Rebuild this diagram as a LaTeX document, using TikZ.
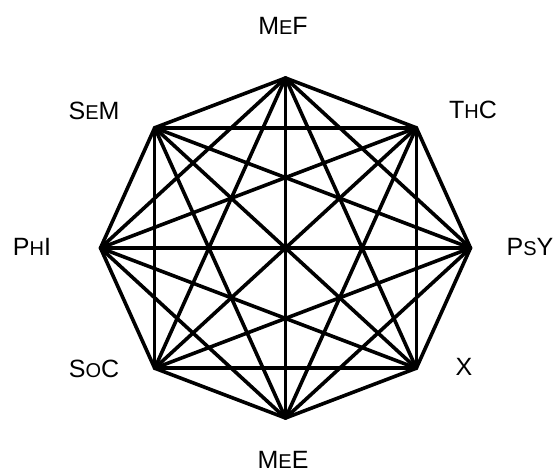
\documentclass[tikz,border=0pt]{standalone}
\usepackage{fontspec}
\setmainfont{Liberation Sans}
\usetikzlibrary{calc}
\newcommand{\smc}[3]{#1{\fontsize{10}{12}\selectfont #2}#3}

\begin{document}
\begin{tikzpicture}[x=0.5pt, y=0.5pt]
    \tikzstyle{vertex} = [coordinate]
    \tikzstyle{edge}   = [line width=1.8pt, line cap=round, line join=round]
    \tikzstyle{lbl}    = [font=\fontsize{12.5}{15}\selectfont, inner sep=0pt]

    \useasboundingbox (0,0) rectangle (556,472);

    % corners of the octagon
    \foreach \name/\ang in {mef/90, thc/45, psy/0, x/-45, mee/-90, soc/-135, phi/180, sem/135}
        \node [vertex] (\name) at ($(285.5,224)+(\ang:185 and 170)$) {};

    % every pair joined
    \foreach \a [count=\i] in {mef,thc,psy,x,mee,soc,phi,sem}
        \foreach \b [count=\j] in {mef,thc,psy,x,mee,soc,phi,sem}
            {\ifnum\j>\i \draw [edge] (\a) -- (\b); \fi}

    \node [lbl] (lmef) at (283,446) {\smc{M}{E}{F}};
    \node [lbl] (lthc) at (473,362) {\smc{T}{H}{C}};
    \node [lbl] (lpsy) at (530,225) {\smc{P}{S}{Y}};
    \node [lbl] (lx)   at (464,105) {X};
    \node [lbl] (lmee) at (283,12)  {\smc{M}{E}{E}};
    \node [lbl] (lsoc) at (94,103)  {\smc{S}{O}{C}};
    \node [lbl] (lphi) at (32,225)  {\smc{P}{H}{I}};
    \node [lbl] (lsem) at (94,361)  {\smc{S}{E}{M}};
\end{tikzpicture}
\end{document}
